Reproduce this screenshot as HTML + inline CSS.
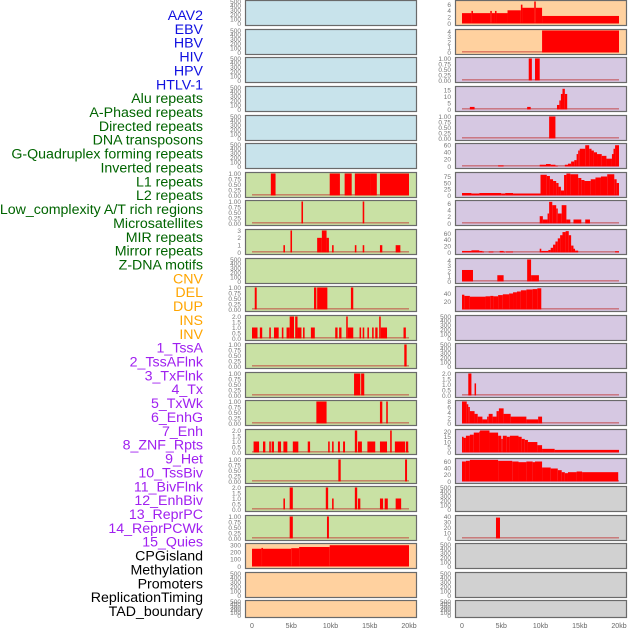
<!DOCTYPE html>
<html><head><meta charset="utf-8"><style>
html,body{margin:0;padding:0;background:#fff;width:630px;height:630px;overflow:hidden}
svg{display:block}
</style></head><body>
<svg id="chart" width="630" height="630" xmlns="http://www.w3.org/2000/svg" font-family="Liberation Sans, sans-serif"></svg>
<script>
// ---- labels ----
const trackLabels = ["AAV2","EBV","HBV","HIV","HPV","HTLV-1","Alu repeats","A-Phased repeats","Directed repeats","DNA transposons","G-Quadruplex forming repeats","Inverted repeats","L1 repeats","L2 repeats","Low_complexity A/T rich regions","Microsatellites","MIR repeats","Mirror repeats","Z-DNA motifs","CNV","DEL","DUP","INS","INV","1_TssA","2_TssAFlnk","3_TxFlnk","4_Tx","5_TxWk","6_EnhG","7_Enh","8_ZNF_Rpts","9_Het","10_TssBiv","11_BivFlnk","12_EnhBiv","13_ReprPC","14_ReprPCWk","15_Quies","CPGisland","Methylation","Promoters","ReplicationTiming","TAD_boundary"];
const labelColors = ["#1010e0","#1010e0","#1010e0","#1010e0","#1010e0","#1010e0","#006400","#006400","#006400","#006400","#006400","#006400","#006400","#006400","#006400","#006400","#006400","#006400","#006400","#ffa500","#ffa500","#ffa500","#ffa500","#ffa500","#a020f0","#a020f0","#a020f0","#a020f0","#a020f0","#a020f0","#a020f0","#a020f0","#a020f0","#a020f0","#a020f0","#a020f0","#a020f0","#a020f0","#a020f0","#000","#000","#000","#000","#000"];
const xTickKb = [0,5,10,15,20];
const xTickLabels = ["0","5kb","10kb","15kb","20kb"];

// ---- data: segments [startKb, endKb, value] ----
const r1R = [[0,1.2,3.3],[1.2,1.4,4],[1.4,3.6,3.3],[3.6,3.8,4],[3.8,4.2,3.3],[4.2,4.4,4],[4.4,5.8,3.3],[5.8,7.5,4.2],[7.5,7.7,6],[7.7,9.2,5],[9.2,9.4,7],[9.4,10.2,5],[10.2,20,2.4]];
const r2R = [[10.2,20,4.2]];
const r3R = [[8.5,8.9,1],[9.3,9.9,1]];
const r4R = [[1.0,1.6,2],[8.3,8.75,2],[12.1,12.4,3.5],[12.4,12.6,7],[12.6,12.8,12],[12.8,13.1,16],[13.1,13.4,12]];
const r5R = [[11.1,11.9,1]];
const r6R = [[4.6,5.3,3],[9.9,10.7,5],[10.7,11.3,7],[11.3,11.9,5],[11.9,12.2,2],[13.1,13.5,5],[13.5,13.9,8],[13.9,14.3,14],[14.3,14.6,18],[14.6,14.8,35],[14.8,15.0,45],[15.0,15.7,50],[15.7,16.2,60],[16.2,16.5,50],[16.5,16.8,45],[16.8,17.2,40],[17.2,17.8,35],[17.8,18.4,30],[18.4,19.1,22],[19.1,19.3,35],[19.3,19.5,50],[19.5,20,60]];
const r7R = [[0,1.2,10],[1.2,2.2,8],[2.2,5.0,10],[5.0,5.5,8],[5.5,6.5,10],[6.5,10.0,8],[10.0,10.8,83],[10.8,11.2,78],[11.2,11.6,65],[11.6,12.0,58],[12.0,12.3,50],[12.3,12.6,35],[12.6,13.0,20],[13.0,13.3,82],[13.3,13.8,88],[13.8,14.8,85],[14.8,15.2,70],[15.2,15.6,62],[15.6,16.4,58],[16.4,17,65],[17,17.7,72],[17.7,18.5,76],[18.5,19.4,85],[19.4,19.7,65],[19.7,20,50]];
const r8R = [[9.9,10.3,2.2],[10.3,10.9,1.2],[10.9,11.1,3],[11.1,11.5,6.5],[11.5,12.0,5.5],[12.0,12.2,4.5],[12.2,12.7,3],[12.7,13.3,5.5],[13.3,13.8,1.2],[14.2,15.2,1.2],[15.7,16.3,1.2]];
const r9R = [[0,1.2,5],[1.2,2.2,7],[2.2,2.6,5],[2.6,2.8,3],[3.4,4.0,3],[4.8,5.3,5],[5.3,5.5,2],[5.6,6.5,3],[9.9,10.1,12],[10.1,11.0,5],[11.0,11.3,8],[11.3,11.6,15],[11.6,11.9,25],[11.9,12.2,35],[12.2,12.5,45],[12.5,12.8,55],[12.8,13.2,65],[13.2,13.6,68],[13.6,13.9,55],[13.9,14.2,22],[14.2,14.4,12],[14.4,14.8,6],[19.5,20,4]];
const r10R = [[0,1.4,2.2],[4.5,5.3,1.2],[8.3,8.8,4.2],[8.8,9.8,1.2]];
const r11R = [[0,0.3,37],[0.3,1.0,34],[1.0,3.0,32],[3.0,3.6,33],[3.6,4.0,34],[4.0,4.6,33],[4.6,5.2,36],[5.2,6.0,38],[6.0,6.5,40],[6.5,7.0,43],[7.0,7.5,45],[7.5,8.2,48],[8.2,9.0,50],[9.0,9.6,51],[9.6,10.1,53]];
const r14R = [[0.8,1.2,2],[1.6,1.75,1.1]];
const r15R = [[0,0.6,8],[0.6,0.8,7],[0.8,1.0,6],[1.0,1.6,4.5],[1.6,2.0,3.5],[2.0,2.6,2.5],[2.6,3.2,1.5],[3.2,3.4,2.5],[3.4,3.9,3.5],[3.9,4.4,2.5],[4.4,4.7,4.5],[4.7,5.3,5.5],[5.3,6.2,3.5],[6.2,8.2,2.5],[8.2,9.7,1.5],[9.7,10.2,2.5]];
const r16R = [[0,0.2,15],[0.2,0.5,14],[0.5,1.0,16],[1.0,1.5,17],[1.5,2.2,19],[2.2,2.3,20],[2.3,3.5,21],[3.5,4.6,19],[4.6,5.0,16],[5.0,5.2,13],[5.2,5.7,16],[5.7,6.1,15],[6.1,7.2,16],[7.2,7.6,15],[7.6,8.0,13],[8.0,8.4,12],[8.4,9.6,10],[9.6,10.2,7],[10.2,11.8,3.5],[11.8,20,2.5]];
const r17R = [[0,0.5,60],[0.5,1.0,62],[1.0,4.6,65],[4.6,6.4,62],[6.4,7.2,60],[7.2,8.2,58],[8.2,9.0,60],[9.0,9.3,58],[9.3,10.2,60],[10.2,11.3,42],[11.3,12.2,39],[12.2,12.7,34],[12.7,13.1,28],[13.1,13.5,25],[13.5,14.6,28],[14.6,15.3,30],[15.3,19.9,28]];
const r19R = [[4.33,4.84,38]];

const r7L = [[2.4,3.0,1],[9.9,11.2,1],[11.8,12.7,1],[13.1,15.1,1],[15.1,15.9,1],[16.3,20.0,1]];
const r8L = [[6.3,6.5,1],[14.1,14.3,1]];
const r9L = [[4.0,4.2,1],[4.9,5.1,3],[8.3,8.9,2],[8.9,9.5,3],[9.5,9.8,2],[10.2,10.4,1],[13.1,13.3,1],[14.1,14.3,1],[16.3,16.6,1],[18.3,18.9,1]];
const r11L = [[0.35,0.6,1],[7.9,8.2,1],[8.3,9.6,1],[12.6,12.9,1]];
const r12L = [[0,0.7,1],[1.0,1.3,1],[2.2,2.4,1],[2.8,3.4,1],[3.8,4.0,1],[4.4,4.8,1],[4.8,5.35,2],[5.5,5.8,2],[5.8,6.3,1],[6.5,6.7,1],[7.5,8.0,1],[10.6,10.9,1],[11.1,11.4,1],[12.0,12.2,2],[12.2,12.9,1],[13.7,13.9,1],[14.1,14.3,1],[14.7,14.9,1],[15.3,15.5,1],[15.7,16.0,1],[16.2,16.4,2],[16.4,17.2,1],[19.3,19.6,1]];
const r13L = [[19.4,19.7,1]];
const r14L = [[13.0,13.8,1],[13.9,14.3,1]];
const r15L = [[8.2,9.5,1],[16.3,16.6,1],[17.1,17.3,1]];
const r16L = [[0.2,0.9,1],[1.4,1.7,1],[2.2,2.4,1],[2.5,2.8,1],[3.3,3.7,1],[4.0,4.5,1],[5.2,5.9,1],[7.1,7.4,1],[9.7,9.9,1],[10.2,10.4,1],[10.95,11.2,1],[11.6,11.85,1],[13.1,13.4,2],[13.5,14.0,1],[14.7,15.7,1],[16.3,17.2,1],[17.6,17.8,2],[18.2,19.5,1],[19.6,19.9,1]];
const r17L = [[11.0,11.3,1],[19.5,19.75,1]];
const r18L = [[4.0,4.2,1],[4.8,5.2,2],[9.4,9.7,2],[10.2,10.4,1],[13.1,13.4,2],[13.5,13.8,1],[16.3,16.7,1],[16.9,17.3,1],[18.3,19.0,1]];
const r19L = [[4.8,5.2,1],[9.55,9.8,1]];
const r20L = [[0,1.2,250],[1.2,1.4,262],[1.4,5.0,250],[5.0,6.0,258],[6.0,9.9,275],[9.9,20,300]];

// ---- tick sets ----
const tEmpty = ["0","100","200","300","400","500"], vEmpty=[0,100,200,300,400,500];
const tFrac = ["0.00","0.25","0.50","0.75","1.00"], vFrac=[0,0.25,0.5,0.75,1];
const tTwo = ["0.0","0.5","1.0","1.5","2.0"], vTwo=[0,0.5,1,1.5,2];

const BLUE="#c8e3eb", ORANGE="#ffd19f", PURPLE="#d6c8e2", GREEN="#c9e1a4", GRAY="#d1d1d1";
function P(bg,data,max,vals,ticks){return {bg,data,max,vals,ticks};}
const E=(bg)=>P(bg,null,500,vEmpty,tEmpty);
const rows = [
 [E(BLUE), P(ORANGE,r1R,7,[0,2,4,6],["0","2","4","6"])],
 [E(BLUE), P(ORANGE,r2R,4.2,[0,1,2,3,4],["0","1","2","3","4"])],
 [E(BLUE), P(PURPLE,r3R,1,vFrac,tFrac)],
 [E(BLUE), P(PURPLE,r4R,17,[0,5,10,15],["0","5","10","15"])],
 [E(BLUE), P(PURPLE,r5R,1,vFrac,tFrac)],
 [E(BLUE), P(PURPLE,r6R,62,[0,20,40,60],["0","20","40","60"])],
 [P(GREEN,r7L,1,vFrac,tFrac), P(PURPLE,r7R,88,[0,25,50,75],["0","25","50","75"])],
 [P(GREEN,r8L,1,vFrac,tFrac), P(PURPLE,r8R,6.6,[0,2,4,6],["0","2","4","6"])],
 [P(GREEN,r9L,3,[0,1,2,3],["0","1","2","3"]), P(PURPLE,r9R,70,[0,20,40,60],["0","20","40","60"])],
 [E(GREEN), P(PURPLE,r10R,4.2,[0,1,2,3,4],["0","1","2","3","4"])],
 [P(GREEN,r11L,1,vFrac,tFrac), P(PURPLE,r11R,55,[20,40],["20","40"])],
 [P(GREEN,r12L,2,vTwo,tTwo), E(PURPLE)],
 [P(GREEN,r13L,1,vFrac,tFrac), E(PURPLE)],
 [P(GREEN,r14L,1,vFrac,tFrac), P(PURPLE,r14R,2,vTwo,tTwo)],
 [P(GREEN,r15L,1,vFrac,tFrac), P(PURPLE,r15R,8,[0,2,4,6,8],["0","2","4","6","8"])],
 [P(GREEN,r16L,2,vTwo,tTwo), P(PURPLE,r16R,21,[0,5,10,15,20],["0","5","10","15","20"])],
 [P(GREEN,r17L,1,vFrac,tFrac), P(PURPLE,r17R,66,[0,20,40,60],["0","20","40","60"])],
 [P(GREEN,r18L,2,vTwo,tTwo), E(GRAY)],
 [P(GREEN,r19L,1,vFrac,tFrac), P(GRAY,r19R,40,[0,10,20,30,40],["0","10","20","30","40"])],
 [P(ORANGE,r20L,310,[0,100,200,300],["0","100","200","300"]), E(GRAY)],
 [E(ORANGE), E(GRAY)],
 [E(ORANGE), E(GRAY)]
];
const rowTops=[0,29,57,86,115,143,172,200,229,258,286,315,343,372,400,429,458,486,515,543,572,600];

const NS="http://www.w3.org/2000/svg";
const svg=document.getElementById('chart');
function mk(tag,attrs,parent){const e=document.createElementNS(NS,tag);for(const k in attrs)e.setAttribute(k,attrs[k]);(parent||svg).appendChild(e);return e;}

const y0=15, dy=(611-15)/(trackLabels.length-1);
trackLabels.forEach((t,i)=>{
  const el=mk('text',{x:203,y:y0+i*dy+5,'text-anchor':'end','font-size':14.2,fill:labelColors[i]});
  el.textContent=t;
  
  
});

const cols=[{px:245,x0:252},{px:455,x0:462}];
const PW=171, KB=7.85;
function xScale(c,kb){return cols[c].x0+kb*KB;}

rows.forEach((row,ri)=>{
  const top=rowTops[ri]; const h=(ri===rows.length-1)?17:25;
  row.forEach((p,c)=>{
    const g=mk('g',{});
    
    
    mk('rect',{x:cols[c].px+0.5,y:top+0.5,width:PW,height:h,fill:p.bg,stroke:'#6a6a6a','stroke-width':1.2},g);
    const zero=top+h-1.5, ymaxPx=top+1.5;
    const yScale=v=>zero-(v/p.max)*(zero-ymaxPx);
    p.vals.forEach((v,k)=>{
      const tx=mk('text',{x:cols[c].px-4,y:yScale(v)+2.3,'text-anchor':'end','font-size':6.5,fill:'#777'},g);
      tx.textContent=p.ticks[k];
      
      
    });
    if(p.data){
      mk('line',{x1:xScale(c,0),x2:xScale(c,20),y1:zero-0.7,y2:zero-0.7,stroke:'#c03030','stroke-opacity':0.6,'stroke-width':1.4},g);
      p.data.forEach(s=>{
        const x1=xScale(c,s[0]), x2=xScale(c,s[1]);
        const yv=yScale(s[2]);
        const b=mk('rect',{x:x1,y:yv,width:Math.max(1.5,x2-x1),height:zero-yv,fill:'#ff0000'},g);
        
        
      });
    }
  });
});

[0,1].forEach(c=>{
  xTickKb.forEach((kb,i)=>{
    const t=mk('text',{x:xScale(c,kb),y:628,'text-anchor':'middle','font-size':7,fill:'#666'});
    t.textContent=xTickLabels[i];
    
    
  });
});
</script>
</body></html>
